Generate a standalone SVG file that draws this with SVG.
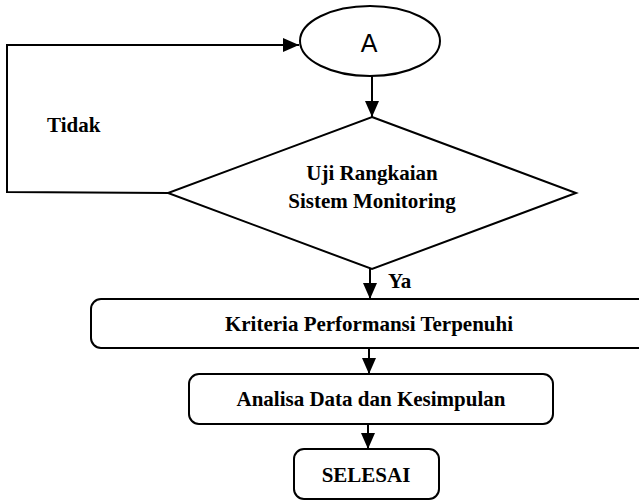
<svg xmlns="http://www.w3.org/2000/svg" width="639" height="501" viewBox="0 0 639 501">
<style>
.shape{fill:#fff;stroke:#000;stroke-width:2}
.conn{fill:none;stroke:#000;stroke-width:2}
.lbl{font-family:"Liberation Serif","Times New Roman",serif;font-weight:bold;font-size:21px;fill:#000}
.ctr{text-anchor:middle}
.sans{font-family:"Liberation Sans",Arial,sans-serif;font-size:25px;fill:#000;text-anchor:middle}
</style>
<defs>
<marker id="arr" markerUnits="userSpaceOnUse" markerWidth="18" markerHeight="16" refX="16" refY="7" orient="auto">
<path d="M0,0 L16,7 L0,14 Z" fill="#000"/>
</marker>
</defs>
<rect width="639" height="501" fill="#fff"/>
<g id="connectors">
<polyline class="conn" points="168,193 7,192 7,45 299,45" marker-end="url(#arr)"/>
<line class="conn" x1="372" y1="76" x2="372" y2="117" marker-end="url(#arr)"/>
<line class="conn" x1="370" y1="269" x2="370" y2="299" marker-end="url(#arr)"/>
<line class="conn" x1="369" y1="348" x2="369" y2="374" marker-end="url(#arr)"/>
<line class="conn" x1="368" y1="424" x2="368" y2="449" marker-end="url(#arr)"/>
</g>
<g id="nodeA">
<ellipse class="shape" cx="370" cy="41" rx="70" ry="35"/>
<text class="sans" x="369" y="52">A</text>
</g>
<g id="decision">
<polygon class="shape" points="372,117 576,193 372,269 168,193"/>
<text class="lbl ctr" x="372" y="180">Uji Rangkaian</text>
<text class="lbl ctr" x="372" y="208">Sistem Monitoring</text>
</g>
<g id="labelTidak"><text class="lbl" x="47" y="132">Tidak</text></g>
<g id="labelYa"><text class="lbl" x="388" y="288">Ya</text></g>
<g id="kriteria">
<rect class="shape" x="91" y="299" width="558" height="49" rx="10"/>
<text class="lbl ctr" x="369" y="331">Kriteria Performansi Terpenuhi</text>
</g>
<g id="analisa">
<rect class="shape" x="189" y="374" width="364" height="50" rx="10"/>
<text class="lbl ctr" x="371" y="406">Analisa Data dan Kesimpulan</text>
</g>
<g id="selesai">
<rect class="shape" x="294" y="449" width="145" height="50" rx="10"/>
<text class="lbl ctr" x="366" y="482">SELESAI</text>
</g>
</svg>
